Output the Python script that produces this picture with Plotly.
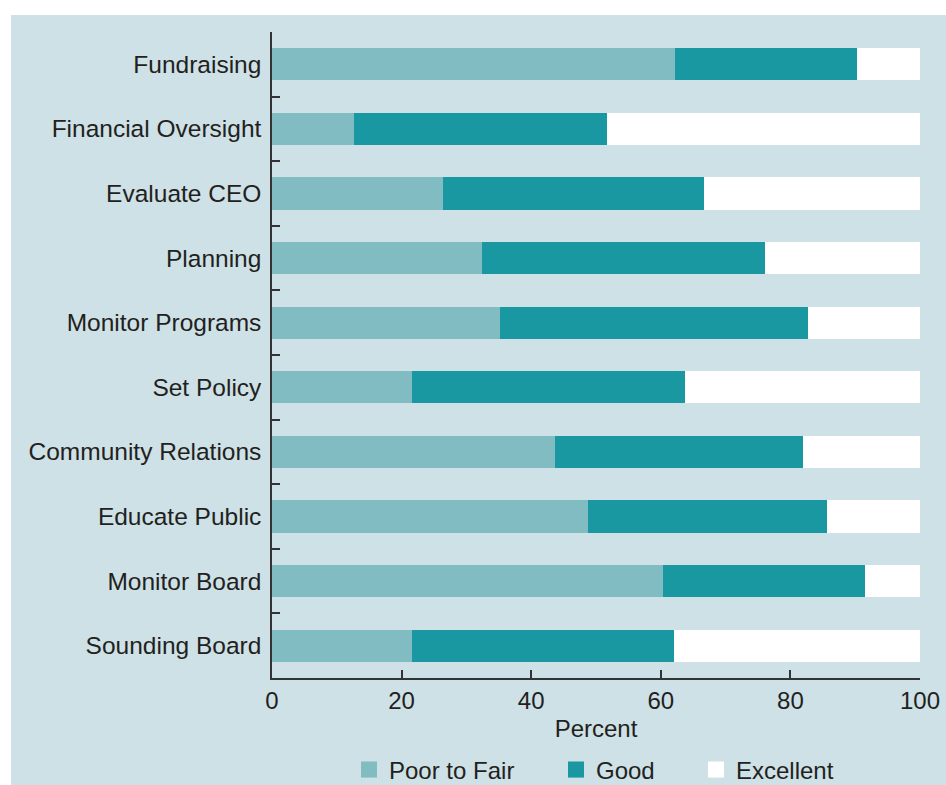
import plotly.graph_objects as go

categories = ["Fundraising", "Financial Oversight", "Evaluate CEO", "Planning",
              "Monitor Programs", "Set Policy", "Community Relations",
              "Educate Public", "Monitor Board", "Sounding Board"]
poor_to_fair = [62.2, 12.7, 26.4, 32.4, 35.2, 21.6, 43.7, 48.8, 60.3, 21.6]
good = [28.1, 39.0, 40.3, 43.7, 47.5, 42.1, 38.2, 36.8, 31.2, 40.4]
excellent = [round(100 - p - g, 1) for p, g in zip(poor_to_fair, good)]
x_ticks = [0, 20, 40, 60, 80, 100]
series_names = ["Poor to Fair", "Good", "Excellent"]
series_colors = ["#82bcc3", "#1a98a1", "#ffffff"]

PANEL = "#cde1e6"
TEXT = "#231f20"
AXIS = "#333333"
FONT = "Liberation Sans"

W, H = 946, 785
L, R, T, B = 272, 26, 32, 107
pw, ph = W - L - R, H - T - B


def px_x(page_x):
    return (page_x - L) / pw


def px_y(page_y):
    return (T + ph - page_y) / ph


fig = go.Figure()
for name, vals, col in zip(series_names, [poor_to_fair, good, excellent], series_colors):
    fig.add_trace(go.Bar(y=categories, x=vals, name=name, orientation="h",
                         marker=dict(color=col, line=dict(width=0)),
                         width=0.5, showlegend=False))

legend_left = [349, 556, 696]
legend_keys = ["legend", "legend2", "legend3"]
for name, col, key in zip(series_names, series_colors, legend_keys):
    fig.add_trace(go.Scatter(x=[None], y=[None], mode="markers", name=name,
                             marker=dict(symbol="square", size=16, color=col,
                                         line=dict(width=0)),
                             legend=key, showlegend=True))

legend_common = dict(orientation="h", xanchor="left", yanchor="middle",
                     y=px_y(770), font=dict(size=24, color=TEXT),
                     bgcolor="rgba(0,0,0,0)", borderwidth=0)

fig.update_layout(
    width=W, height=H,
    barmode="stack",
    margin=dict(l=L, r=R, t=T, b=B, pad=0, autoexpand=False),
    paper_bgcolor="white",
    plot_bgcolor="rgba(0,0,0,0)",
    font=dict(family=FONT, size=24, color=TEXT),
    legend=dict(x=px_x(legend_left[0]), **legend_common),
    legend2=dict(x=px_x(legend_left[1]), **legend_common),
    legend3=dict(x=px_x(legend_left[2]), **legend_common),
    shapes=[dict(type="rect", xref="paper", yref="paper", layer="below",
                 x0=px_x(11), x1=px_x(946), y0=px_y(785), y1=px_y(15),
                 fillcolor=PANEL, line=dict(width=0))],
)
fig.update_xaxes(range=[0, 100], tickvals=x_ticks, ticks="inside", ticklen=8,
                 tickwidth=1.5, tickcolor=AXIS, showline=True, linecolor=AXIS,
                 linewidth=1.5, showgrid=False, zeroline=False, automargin=False,
                 title=dict(text="Percent", standoff=8, font=dict(size=24)),
                 tickfont=dict(size=24))
fig.update_yaxes(categoryorder="array", categoryarray=categories[::-1],
                 ticks="inside", tickson="boundaries", ticklen=8, tickwidth=1.5,
                 tickcolor=AXIS, showline=True, linecolor=AXIS, linewidth=1.5,
                 showgrid=False, automargin=False, ticklabelstandoff=4,
                 tickfont=dict(size=24.5))

page_css = ("document.documentElement.style.margin='0';"
            "document.body.style.margin='0';")
fig.write_html("out.html", post_script=page_css, config={"displayModeBar": False})
